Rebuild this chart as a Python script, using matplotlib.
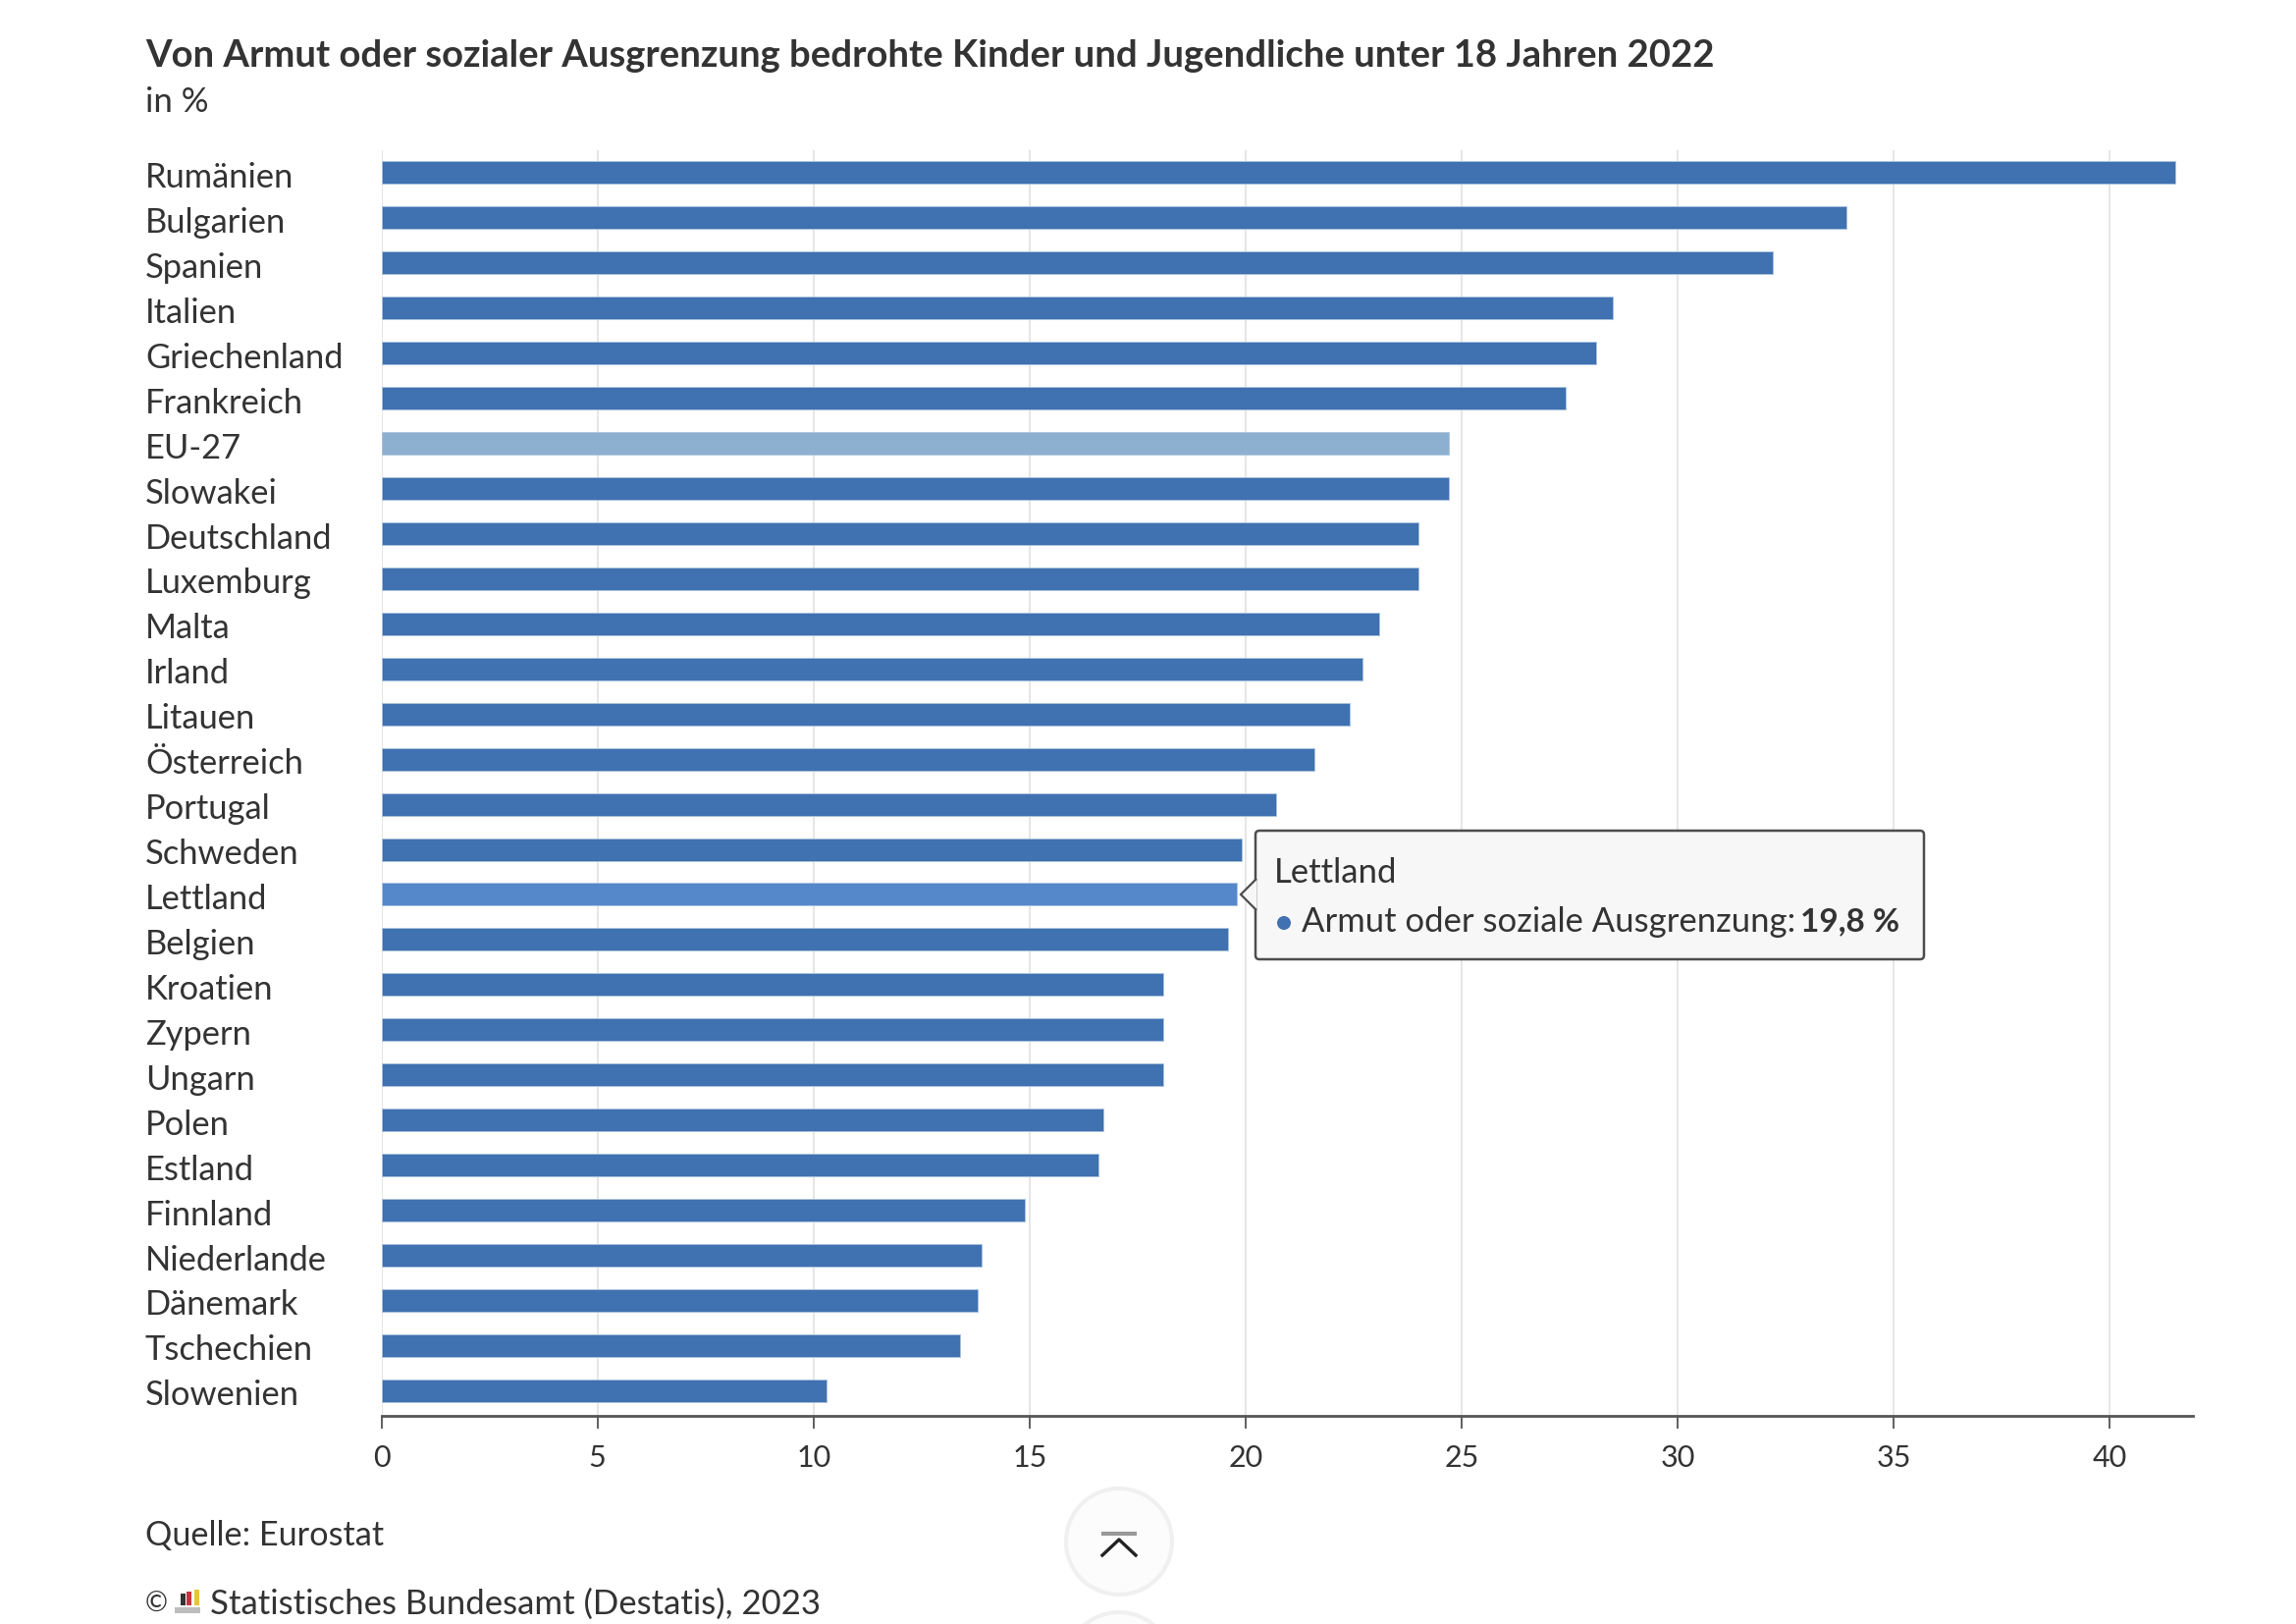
import matplotlib
matplotlib.use("Agg")
import matplotlib.pyplot as plt
from matplotlib.patches import Circle, FancyBboxPatch, Polygon, Rectangle
from matplotlib.transforms import ScaledTranslation

plt.rcParams['font.family'] = ['Lato', 'DejaVu Sans']

countries = ['Rumänien', 'Bulgarien', 'Spanien', 'Italien', 'Griechenland', 'Frankreich', 'EU-27',
             'Slowakei', 'Deutschland', 'Luxemburg', 'Malta', 'Irland', 'Litauen', 'Österreich',
             'Portugal', 'Schweden', 'Lettland', 'Belgien', 'Kroatien', 'Zypern', 'Ungarn', 'Polen',
             'Estland', 'Finnland', 'Niederlande', 'Dänemark', 'Tschechien', 'Slowenien']
values = [41.5, 33.9, 32.2, 28.5, 28.1, 27.4, 24.7, 24.7, 24.0, 24.0, 23.1, 22.7, 22.4, 21.6,
          20.7, 19.9, 19.8, 19.6, 18.1, 18.1, 18.1, 16.7, 16.6, 14.9, 13.9, 13.8, 13.4, 10.3]
x_ticks = [0, 5, 10, 15, 20, 25, 30, 35, 40]

title = 'Von Armut oder sozialer Ausgrenzung bedrohte Kinder und Jugendliche unter 18 Jahren 2022'
subtitle = 'in %'
source = 'Quelle: Eurostat'
credit = 'Statistisches Bundesamt (Destatis), 2023'

W, H = 2339, 1654
BLUE = '#4071b0'
TEXT = '#333333'

colors = []
for c in countries:
    if c == 'EU-27':
        colors.append('#8db0d1')
    elif c == 'Lettland':
        colors.append('#5587cb')
    else:
        colors.append(BLUE)

fig = plt.figure(figsize=(W / 100, H / 100), dpi=100, facecolor='white')

# plot area, in pixels of the picture
left, right, top, bottom = 388.5, 2234, 153, 1442
ax = fig.add_axes([left / W, 1 - bottom / H, (right - left) / W, (bottom - top) / H])

ypos = list(range(len(countries)))
ax.barh(ypos, values, height=0.5, color=colors, edgecolor='#a9c4de', linewidth=0.6, zorder=3)
ax.set_xlim(0, 41.92)
ax.set_ylim(len(countries) - 1 + 0.56, -0.5)

ax.set_xticks(x_ticks)
ax.set_xticklabels([str(t) for t in x_ticks], fontsize=22, color=TEXT)
ax.set_yticks(ypos)
ax.set_yticklabels(countries, fontsize=24.8, color=TEXT, ha='left')
ax.tick_params(axis='y', length=0, pad=173.2)
ax.tick_params(axis='x', length=9, width=1.2, color='#444444', pad=12)
ax.grid(axis='x', color='#e6e6e6', linewidth=1.4, zorder=0)
for s in ['top', 'right', 'left']:
    ax.spines[s].set_visible(False)
ax.spines['bottom'].set_color('#555555')
ax.spines['bottom'].set_linewidth(2)

# country names sit slightly below the bar centres
shift = ScaledTranslation(0, -1.5 / 72, fig.dpi_scale_trans)
for lab in ax.get_yticklabels():
    lab.set_transform(lab.get_transform() + shift)

# overlay in picture pixels for title, tooltip and footer
ov = fig.add_axes([0, 0, 1, 1], zorder=5)
ov.set_xlim(0, W)
ov.set_ylim(H, 0)
ov.axis('off')

ov.text(148, 57, title, fontsize=27.5, fontweight='bold', color=TEXT, va='center')
ov.text(148, 104, subtitle, fontsize=25, color=TEXT, va='center')
ov.text(148, 1564, source, fontsize=24.7, color=TEXT, va='center')
ov.text(148, 1634, '©', fontsize=20, color=TEXT, va='center')
ov.text(214, 1634, credit, fontsize=25, color=TEXT, va='center')

# small logo in the credit line
for x0, h, col in [(184, 12, '#333333'), (190, 14, '#c8323c'), (198, 16, '#e8c436')]:
    ov.add_patch(Rectangle((x0, 1635 - h), 5, h, color=col, lw=0))
ov.add_patch(Rectangle((178, 1637), 26, 6, color='#bdbdbd', lw=0))

# tooltip
ov.add_patch(FancyBboxPatch((1279, 846), 681, 131, boxstyle='round,pad=0,rounding_size=4',
                            facecolor='#f7f7f7', edgecolor='#4d4d4d', linewidth=1.8))
ov.add_patch(Polygon([(1280, 895), (1264, 911), (1280, 927)], closed=False,
                     facecolor='#f7f7f7', edgecolor='#4d4d4d', linewidth=1.6))
ov.text(1298, 889, 'Lettland', fontsize=25, color=TEXT, va='center')
ov.add_patch(Circle((1308, 940), 7, color=BLUE, lw=0))
ov.text(1326, 939, 'Armut oder soziale Ausgrenzung:', fontsize=24.9, color=TEXT, va='center')
ov.text(1834, 939, '19,8 %', fontsize=24, fontweight='bold', color=TEXT, va='center', ha='left')

# scroll-to-top button, the next one is cut off by the lower edge
ov.add_patch(Circle((1140, 1570), 54, facecolor='#fcfcfc', edgecolor='#f0f0f0', linewidth=3))
ov.add_patch(Circle((1140, 1696), 54, facecolor='#fcfcfc', edgecolor='#f0f0f0', linewidth=3))
ov.plot([1122, 1158], [1562, 1562], color='#999999', linewidth=3, solid_capstyle='butt')
ov.plot([1123, 1140, 1157], [1584, 1568, 1584], color='#222222', linewidth=2.4)

fig.savefig('out.png', dpi=100)
